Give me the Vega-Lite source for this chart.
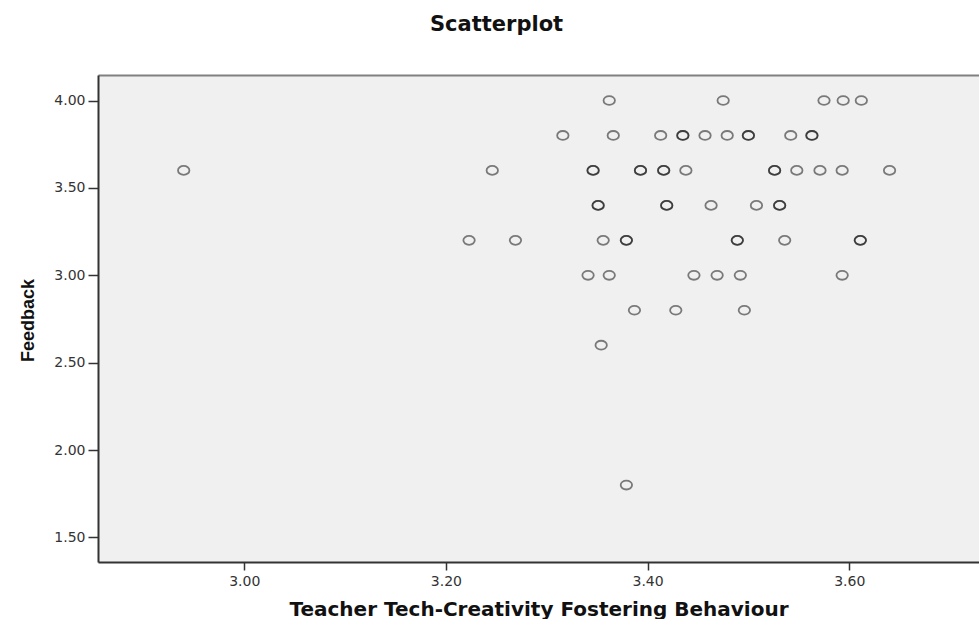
{
  "$schema": "https://vega.github.io/schema/vega-lite/v6.json",
  "autosize": {"type": "none"},
  "padding": {"left": 98, "top": 75, "right": 0, "bottom": 57},
  "width": 881,
  "height": 487,
  "background": "white",
  "config": {"view": {"fill": "#f0f0f0", "stroke": null}},
  "title": {
    "text": "Scatterplot",
    "font": "DejaVu Sans",
    "fontSize": 21,
    "fontWeight": "bold",
    "color": "#111111",
    "anchor": "start",
    "frame": "group",
    "dx": 332,
    "offset": 23,
    "baseline": "alphabetic"
  },
  "data": {
    "values": [
      {"x": 3.362, "y": 4.0}, {"x": 3.475, "y": 4.0}, {"x": 3.575, "y": 4.0}, {"x": 3.594, "y": 4.0}, {"x": 3.612, "y": 4.0},
      {"x": 3.316, "y": 3.8}, {"x": 3.366, "y": 3.8}, {"x": 3.413, "y": 3.8}, {"x": 3.435, "y": 3.8}, {"x": 3.435, "y": 3.8},
      {"x": 3.457, "y": 3.8}, {"x": 3.479, "y": 3.8}, {"x": 3.5, "y": 3.8}, {"x": 3.5, "y": 3.8}, {"x": 3.542, "y": 3.8},
      {"x": 3.563, "y": 3.8}, {"x": 3.563, "y": 3.8},
      {"x": 2.94, "y": 3.6}, {"x": 3.246, "y": 3.6}, {"x": 3.346, "y": 3.6}, {"x": 3.346, "y": 3.6}, {"x": 3.393, "y": 3.6},
      {"x": 3.393, "y": 3.6}, {"x": 3.416, "y": 3.6}, {"x": 3.416, "y": 3.6}, {"x": 3.438, "y": 3.6}, {"x": 3.526, "y": 3.6},
      {"x": 3.526, "y": 3.6}, {"x": 3.548, "y": 3.6}, {"x": 3.571, "y": 3.6}, {"x": 3.593, "y": 3.6}, {"x": 3.64, "y": 3.6},
      {"x": 3.351, "y": 3.4}, {"x": 3.351, "y": 3.4}, {"x": 3.419, "y": 3.4}, {"x": 3.419, "y": 3.4}, {"x": 3.463, "y": 3.4},
      {"x": 3.508, "y": 3.4}, {"x": 3.531, "y": 3.4}, {"x": 3.531, "y": 3.4},
      {"x": 3.223, "y": 3.2}, {"x": 3.269, "y": 3.2}, {"x": 3.356, "y": 3.2}, {"x": 3.379, "y": 3.2}, {"x": 3.379, "y": 3.2},
      {"x": 3.489, "y": 3.2}, {"x": 3.489, "y": 3.2}, {"x": 3.536, "y": 3.2}, {"x": 3.611, "y": 3.2}, {"x": 3.611, "y": 3.2},
      {"x": 3.341, "y": 3.0}, {"x": 3.362, "y": 3.0}, {"x": 3.446, "y": 3.0}, {"x": 3.469, "y": 3.0}, {"x": 3.492, "y": 3.0},
      {"x": 3.593, "y": 3.0},
      {"x": 3.387, "y": 2.8}, {"x": 3.428, "y": 2.8}, {"x": 3.496, "y": 2.8},
      {"x": 3.354, "y": 2.6},
      {"x": 3.379, "y": 1.8}
    ]
  },
  "layer": [
    {
      "mark": {
        "type": "point",
        "shape": "M-1,0A1,0.78,0,1,1,1,0A1,0.78,0,1,1,-1,0Z",
        "filled": false,
        "size": 130,
        "stroke": "#000000",
        "strokeOpacity": 0.7,
        "strokeWidth": 1.8
      },
      "encoding": {
        "x": {
          "field": "x",
          "type": "quantitative",
          "scale": {"domain": [2.855, 3.7287], "nice": false, "zero": false},
          "axis": {
            "orient": "bottom",
            "values": [3.0, 3.2, 3.4, 3.6],
            "format": ".2f",
            "grid": false,
            "domainColor": "#333333",
            "domainWidth": 2,
            "tickColor": "#333333",
            "tickWidth": 1.5,
            "tickSize": 8,
            "labelPadding": 4,
            "labelFont": "DejaVu Sans",
            "labelFontSize": 14,
            "labelColor": "#333333",
            "title": "Teacher Tech-Creativity Fostering Behaviour",
            "titleFont": "DejaVu Sans",
            "titleFontSize": 20,
            "titleFontWeight": "bold",
            "titleColor": "#111111",
            "titleBaseline": "alphabetic",
            "titleY": 53
          }
        },
        "y": {
          "field": "y",
          "type": "quantitative",
          "scale": {"domain": [1.3598, 4.1459], "nice": false, "zero": false},
          "axis": {
            "values": [1.5, 2.0, 2.5, 3.0, 3.5, 4.0],
            "format": ".2f",
            "grid": false,
            "domainColor": "#333333",
            "domainWidth": 2,
            "tickColor": "#333333",
            "tickWidth": 1.5,
            "tickSize": 10,
            "labelPadding": 3,
            "labelFont": "DejaVu Sans",
            "labelFontSize": 14,
            "labelColor": "#333333",
            "title": "Feedback",
            "titleFont": "Liberation Sans",
            "titleFontSize": 18,
            "titleFontWeight": "bold",
            "titleColor": "#111111",
            "titleAngle": -90,
            "titleAlign": "center",
            "titleBaseline": "alphabetic",
            "titleX": -65,
            "titleY": 245
          }
        }
      }
    },
    {
      "mark": {"type": "point", "opacity": 0},
      "encoding": {
        "x": {
          "field": "x",
          "type": "quantitative",
          "axis": {
            "orient": "top",
            "labels": false,
            "ticks": false,
            "grid": false,
            "title": null,
            "domainColor": "#808080",
            "domainWidth": 2
          }
        }
      }
    }
  ],
  "resolve": {"axis": {"x": "independent"}}
}
